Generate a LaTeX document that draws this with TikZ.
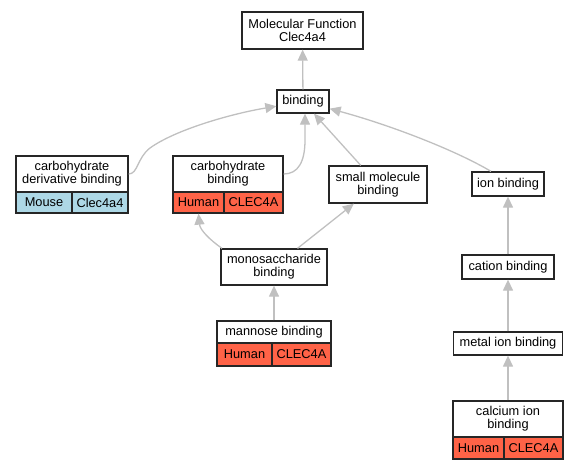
\documentclass[tikz,border=0pt]{standalone}
\usepackage{fontspec}
\setmainfont{Liberation Sans}
\usetikzlibrary{arrows.meta}
\definecolor{humancol}{HTML}{FF6347}
\definecolor{mousecol}{HTML}{ADD8E6}
\definecolor{edgegray}{HTML}{C0C0C0}
\tikzset{
  term/.style={rectangle,draw=black!85,line width=1.3pt,fill=white,inner sep=0pt,
    align=center,font=\fontsize{12.8}{13.3}\selectfont},
  human/.style={term,fill=humancol},
  mouse/.style={term,fill=mousecol},
  isa/.style={draw=edgegray,line width=1.3pt,-{Triangle[length=11pt,width=10pt]}}
}
\begin{document}
\begin{tikzpicture}[x=1pt,y=-1pt]
        \useasboundingbox (0,0) rectangle (579,469);
        %\draw [very thin, green]  (0,0) grid[step=50] (579,469);
        \node at (302.5,30.5) [term,minimum width=121,minimum height=37] (mf) {Molecular Function\\Clec4a4};
        \node at (303,101.5) [term,minimum width=52,minimum height=23] (bind) {binding};

        \node at (72,174) [term,minimum width=112,minimum height=36] (cdb) {carbohydrate\\derivative binding};
        \node at (44,202.5) [mouse,minimum width=56,minimum height=21] (cdbm) {Mouse};
        \node at (100,202.5) [mouse,minimum width=56,minimum height=21] (cdbg) {Clec4a4};

        \node at (228,174) [term,minimum width=110,minimum height=36] (cb) {carbohydrate\\binding};
        \node at (198.5,202.5) [human,minimum width=51,minimum height=21] (cbh) {Human};
        \node at (253.5,202.5) [human,minimum width=59,minimum height=21] (cbg) {CLEC4A};

        \node at (378,184.5) [term,minimum width=98,minimum height=37] (smb) {small molecule\\binding};
        \node at (508,184) [term,minimum width=72,minimum height=24] (ion) {ion binding};

        \node at (274,267) [term,minimum width=106,minimum height=36] (mono) {monosaccharide\\binding};
        \node at (274,332) [term,minimum width=114,minimum height=22] (man) {mannose binding};
        \node at (244.5,354.5) [human,minimum width=55,minimum height=23] (manh) {Human};
        \node at (301.5,354.5) [human,minimum width=59,minimum height=23] (mang) {CLEC4A};

        \node at (508,267) [term,minimum width=92,minimum height=24] (cat) {cation binding};
        \node at (508,343.5) [term,minimum width=109,minimum height=23] (metal) {metal ion binding};
        \node at (508,419) [term,minimum width=110,minimum height=36] (ca) {calcium ion\\binding};
        \node at (478.5,448) [human,minimum width=51,minimum height=22] (cah) {Human};
        \node at (533.5,448) [human,minimum width=59,minimum height=22] (cag) {CLEC4A};

        % is_a edges, child -> parent
        \draw [isa] (bind) -- (mf);
        \draw [isa] (cdb.east) .. controls (138,174) and (137,158) .. (150,148)
                    .. controls (175,130) and (230,114) .. (bind.190);
        \draw [isa] (cb.east) .. controls (298,174) and (305,162) .. (305,140) -- ([xshift=2pt]bind.south);
        \draw [isa] (smb) -- (bind);
        \draw [isa] ([xshift=-17pt]ion.north) .. controls (455,150) and (390,125) .. (bind.-15);
        \draw [isa] ([xshift=-52pt]mono.north) .. controls (210,240) and (200,230) .. (cbh.south);
        \draw [isa] (mono) -- (smb);
        \draw [isa] (man) -- (mono);
        \draw [isa] (cat) -- (ion);
        \draw [isa] (metal) -- (cat);
        \draw [isa] (ca) -- (metal);
    \end{tikzpicture}
\end{document}
